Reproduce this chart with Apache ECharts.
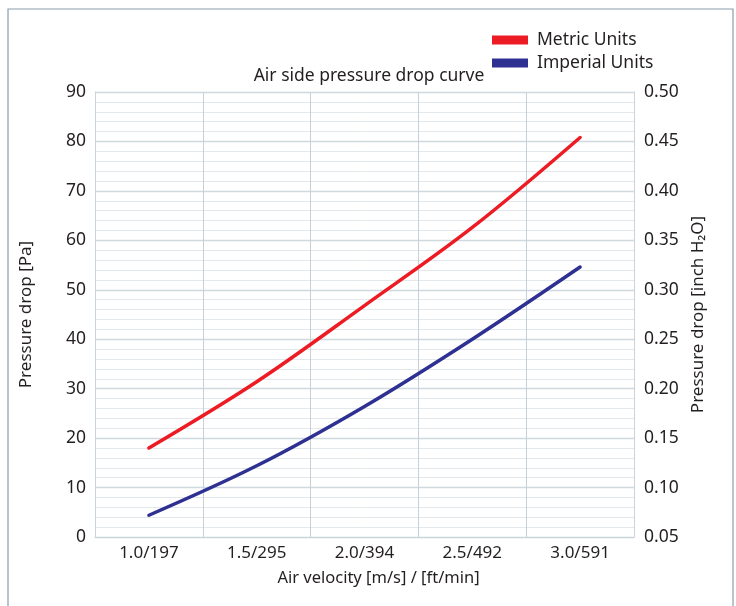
<!DOCTYPE html>
<html>
<head>
<meta charset="utf-8">
<script src="https://cdn.jsdelivr.net/npm/echarts@6/dist/echarts.min.js"></script>
<style>
  html, body { margin: 0; padding: 0; background: #ffffff; }
  #chart { width: 736px; height: 606px; }
</style>
</head>
<body>
<div id="chart"></div>
<script>
// Air velocity categories: m/s / ft/min
const velocities = ['1.0/197', '1.5/295', '2.0/394', '2.5/492', '3.0/591'];
// Pressure drop in Pa (left axis)
const metricPa = [18.0, 31.4, 46.8, 62.6, 80.8];
// Pressure drop in inch H2O (right axis)
const imperialInH2O = [0.072, 0.122, 0.182, 0.250, 0.323];

const leftTicks = { min: 0, max: 90, interval: 10 };
const rightTicks = { min: 0.05, max: 0.50, interval: 0.05 };

const FONT = 'Noto Sans';
const TEXT = '#231f20';
const MAJOR = '#d0d9df';
const MINOR = '#e3e8ec';

const chart = echarts.init(document.getElementById('chart'), null, { renderer: 'canvas' });

chart.setOption({
  animation: false,
  backgroundColor: '#ffffff',
  textStyle: { fontFamily: FONT, color: TEXT },
  graphic: [{
    type: 'rect',
    shape: { x: 8, y: 9, width: 725, height: 620 },
    style: { fill: 'none', stroke: '#8c9cab', lineWidth: 1.2 },
    silent: true
  }],
  title: {
    text: 'Air side pressure drop curve',
    left: 364, top: 62, textAlign: 'center',
    textStyle: { fontFamily: FONT, fontWeight: 'normal', fontSize: 17.5, color: TEXT }
  },
  legend: {
    orient: 'vertical',
    left: 492, top: 31,
    padding: 0,
    itemWidth: 36, itemHeight: 9, itemGap: 5,
    icon: 'rect',
    textStyle: { fontFamily: FONT, fontSize: 17.5, lineHeight: 18, color: TEXT, padding: [0, 0, 0, 4] },
    data: ['Metric Units', 'Imperial Units']
  },
  grid: { left: 95, right: 102, top: 92, bottom: 69, containLabel: false },
  xAxis: {
    type: 'category',
    data: velocities,
    boundaryGap: true,
    name: 'Air velocity [m/s] / [ft/min]',
    nameLocation: 'middle',
    nameGap: 33,
    nameTextStyle: { fontFamily: FONT, fontSize: 16.5, color: TEXT, padding: [0, 0, 0, 28] },
    axisLine: { show: true, lineStyle: { color: '#c9d3da', width: 1 } },
    axisTick: { show: false },
    axisLabel: { fontFamily: FONT, fontSize: 17, color: TEXT, margin: 8 },
    splitLine: { show: true, lineStyle: { color: '#c5d0d8', width: 1 } }
  },
  yAxis: [{
    type: 'value',
    min: leftTicks.min, max: leftTicks.max, interval: leftTicks.interval,
    position: 'left',
    name: 'Pressure drop [Pa]',
    nameLocation: 'middle',
    nameGap: 60,
    nameTextStyle: { fontFamily: FONT, fontSize: 17, color: TEXT },
    axisLine: { show: true, lineStyle: { color: '#c9d3da' } },
    axisTick: { show: false },
    axisLabel: { fontFamily: FONT, fontSize: 17.5, color: TEXT, margin: 9 },
    splitLine: { show: true, lineStyle: { color: MAJOR, width: 1.3 } },
    minorTick: { show: false, splitNumber: 5 },
    minorSplitLine: { show: true, lineStyle: { color: MINOR, width: 1 } }
  }, {
    type: 'value',
    min: rightTicks.min, max: rightTicks.max, interval: rightTicks.interval,
    position: 'right',
    name: 'Pressure drop [inch H\u2082O]',
    nameLocation: 'middle',
    nameGap: 56,
    nameRotate: 90,
    nameTextStyle: { fontFamily: FONT, fontSize: 17, color: TEXT },
    axisLine: { show: true, lineStyle: { color: '#c9d3da' } },
    axisTick: { show: false },
    axisLabel: {
      fontFamily: FONT, fontSize: 17.5, color: TEXT, margin: 10,
      formatter: v => v.toFixed(2)
    },
    splitLine: { show: false }
  }],
  series: [{
    name: 'Metric Units',
    type: 'line',
    yAxisIndex: 0,
    data: metricPa,
    smooth: 0.35,
    showSymbol: false,
    color: '#ed1c24',
    lineStyle: { width: 3.5, color: '#ed1c24', cap: 'round' }
  }, {
    name: 'Imperial Units',
    type: 'line',
    yAxisIndex: 1,
    data: imperialInH2O,
    smooth: 0.35,
    showSymbol: false,
    color: '#2e3192',
    lineStyle: { width: 3.5, color: '#2e3192', cap: 'round' }
  }]
});
</script>
</body>
</html>
